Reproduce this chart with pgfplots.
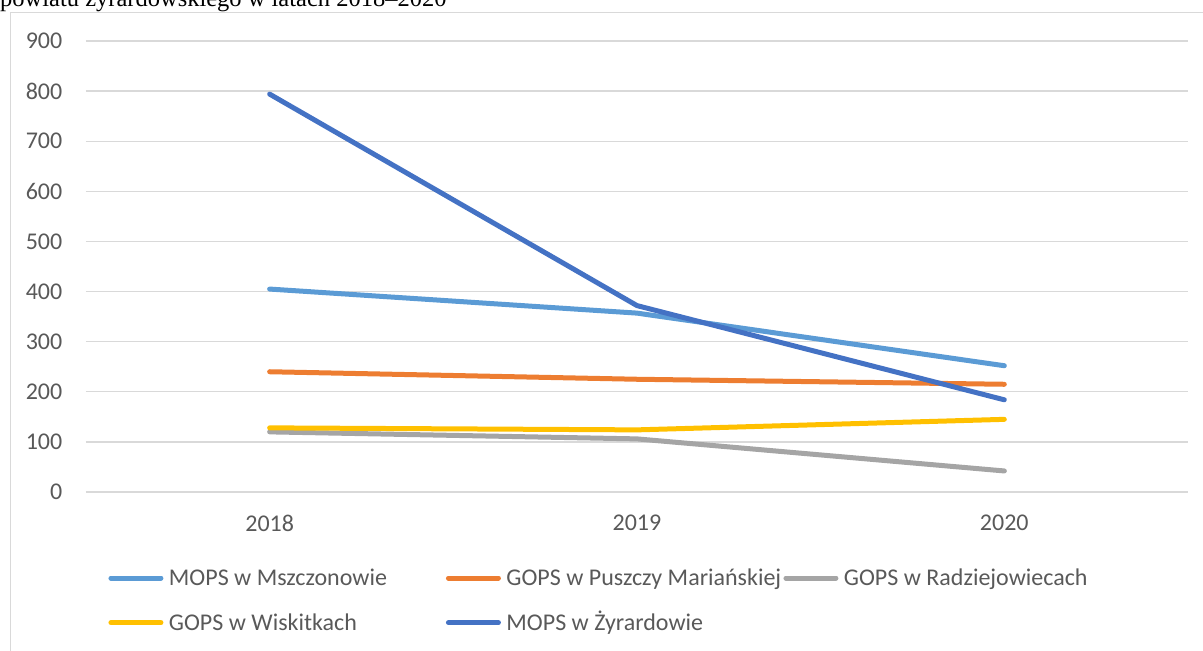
\documentclass[border=0pt]{standalone}
\usepackage{fontspec}
\setmainfont{Carlito}
\newfontfamily\serif{Liberation Serif}
\usepackage{pgfplots}
\pgfplotsset{compat=1.18}
\definecolor{cA}{HTML}{5B9BD5}
\definecolor{cB}{HTML}{ED7D31}
\definecolor{cC}{HTML}{A5A5A5}
\definecolor{cD}{HTML}{FFC000}
\definecolor{cE}{HTML}{4472C4}
\definecolor{gridc}{HTML}{D9D9D9}
\definecolor{txt}{HTML}{595959}
\begin{document}
\fontsize{24pt}{28pt}\selectfont
\begin{tikzpicture}
\node[anchor=base west, inner sep=0pt, font=\serif\fontsize{24.5pt}{28pt}\selectfont] at (0pt,-6.5pt) {powiatu żyrardowskiego w latach 2018–2020};
\draw[gridc, line width=1.5pt] (10.5pt,-700pt) -- (10.5pt,-12.5pt) -- (1250pt,-12.5pt);
\begin{axis}[
  at={(86pt,-492pt)}, anchor=south west,
  scale only axis, width=1102pt, height=451pt,
  xmin=-0.5, xmax=2.5, ymin=0, ymax=900,
  xtick={0,1,2}, xticklabels={2018,2019,2020},
  ytick={0,100,...,900},
  ymajorgrids, grid style={gridc, line width=1.3pt},
  axis line style={draw=none}, tick style={draw=none},
  major tick length=0pt,
  /pgf/number format/assume math mode=true,
  ticklabel style={font=\fontsize{24pt}{28pt}\selectfont, text=txt, inner sep=0pt},
  xticklabel style={anchor=north, yshift=-22.5pt},
  yticklabel style={anchor=east, xshift=-23.5pt},
  clip=false,
  legend columns=3,
  legend style={at={(0.0181,-0.1634)}, anchor=north west, draw=none, fill=none,
    inner sep=0pt, outer sep=0pt, row sep=20.1pt, column sep=0pt,
    nodes={inner sep=0pt, text height=20pt, text depth=4.6pt, anchor=west, text=txt,
      font=\fontsize{24pt}{28pt}\selectfont}},
  legend cell align=left,
  legend image code/.code={\path (0pt,0pt) (55pt,0pt); \draw[#1, line cap=round] (2.5pt,0pt) -- (52.5pt,0pt);},
  every axis plot/.append style={line width=5pt, line cap=round, line join=round, no markers},
]
\addplot[cA] coordinates {(0,405) (1,357) (2,252)};
\addlegendentry{\hspace{3pt}\makebox[274.5pt][l]{MOPS w Mszczonowie}}
\addplot[cB] coordinates {(0,240) (1,225) (2,215)};
\addlegendentry{\hspace{3pt}\makebox[274.5pt][l]{GOPS w Puszczy Mariańskiej}}
\addplot[cC] coordinates {(0,120) (1,106) (2,42)};
\addlegendentry{\hspace{3pt}GOPS w Radziejowiecach}
\addplot[cD] coordinates {(0,128) (1,124) (2,145)};
\addlegendentry{\hspace{3pt}\makebox[274.5pt][l]{GOPS w Wiskitkach}}
\addplot[cE] coordinates {(0,794) (1,372) (2,184)};
\addlegendentry{\hspace{3pt}\makebox[274.5pt][l]{MOPS w Żyrardowie}}
\end{axis}
\pgfresetboundingbox
\useasboundingbox (0pt,0pt) rectangle (1203pt,-651pt);
\end{tikzpicture}
\end{document}
